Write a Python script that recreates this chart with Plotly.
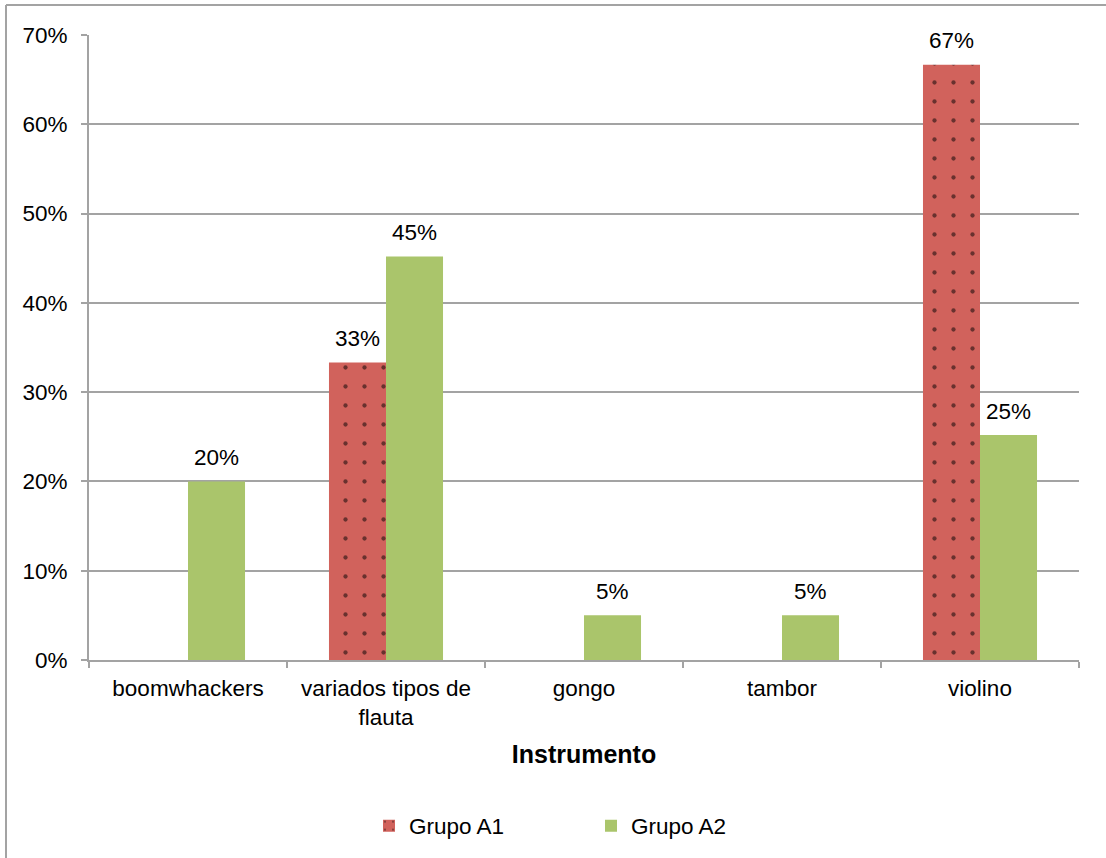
import plotly.graph_objects as go

categories = ["boomwhackers", "variados tipos de<br>flauta", "gongo", "tambor", "violino"]
grupo_a1 = [0.0, 0.3333, 0.0, 0.0, 0.6667]
grupo_a2 = [0.20, 0.452, 0.05, 0.05, 0.252]
series_names = ["Grupo A1", "Grupo A2"]
y_ticks = [0, 0.1, 0.2, 0.3, 0.4, 0.5, 0.6, 0.7]
y_tick_labels = ["0%", "10%", "20%", "30%", "40%", "50%", "60%", "70%"]

RED = "#D1625C"
GREEN = "#AAC56B"
GRID = "#A3A3A3"
FONT = "Arial, Liberation Sans, sans-serif"
FS = 22.5
BARGAP = 0.424

L, R, T, B = 89, 27, 35, 197
W, H = 1106, 858
pw, ph = W - L - R, H - T - B

fig = go.Figure()
fig.add_trace(go.Bar(
    x=categories, y=grupo_a1, name=series_names[0],
    marker=dict(color=RED, line=dict(width=0),
                pattern=dict(shape=".", fgcolor="black", bgcolor=RED, size=19, solidity=0.04)),
))
fig.add_trace(go.Bar(
    x=categories, y=grupo_a2, name=series_names[1],
    marker=dict(color=GREEN, line=dict(width=0)),
))

annotations = []
half = (1 - BARGAP) / 4
for si, vals in enumerate([grupo_a1, grupo_a2]):
    off = -half if si == 0 else half
    for i, v in enumerate(vals):
        if v > 0:
            annotations.append(dict(
                x=i + off, y=v, xref="x", yref="y", text=f"{round(v*100):.0f}%",
                showarrow=False, yanchor="middle", yshift=24,
                font=dict(family=FONT, size=FS, color="black"),
            ))

px = lambda x: (x - L) / pw
py = lambda y: (H - B - y) / ph
shapes = [
    dict(type="line", xref="paper", yref="paper", x0=px(6), x1=px(6), y0=py(5), y1=py(900),
         line=dict(color=GRID, width=2)),
    dict(type="line", xref="paper", yref="paper", x0=px(6), x1=px(1120), y0=py(5), y1=py(5),
         line=dict(color=GRID, width=2)),
]

fig.update_layout(
    width=W, height=H,
    margin=dict(l=L, r=R, t=T, b=B),
    paper_bgcolor="white", plot_bgcolor="white",
    barmode="group", bargap=BARGAP, bargroupgap=0,
    font=dict(family=FONT, size=FS, color="black"),
    annotations=annotations,
    shapes=shapes,
    showlegend=True,
    legend=dict(orientation="h", x=px(369), xanchor="left", y=py(826), yanchor="middle",
                font=dict(family=FONT, size=FS), entrywidth=177, entrywidthmode="pixels",
                bgcolor="rgba(0,0,0,0)"),
    xaxis=dict(
        type="category", showline=True, linecolor=GRID, linewidth=2,
        ticks="outside", tickson="boundaries", ticklen=6, tickcolor=GRID, tickwidth=2,
        showgrid=False, tickfont=dict(family=FONT, size=FS), ticklabelstandoff=7,
        title=dict(text="<b>Instrumento</b>", font=dict(family=FONT, size=25), standoff=16),
    ),
    yaxis=dict(
        range=[0, 0.7], tickvals=y_ticks, ticktext=y_tick_labels,
        showline=True, linecolor=GRID, linewidth=2,
        ticks="outside", ticklen=6, tickcolor=GRID, tickwidth=2,
        showgrid=True, gridcolor=GRID, gridwidth=1.5, zeroline=False,
        tickfont=dict(family=FONT, size=FS), ticklabelstandoff=9,
    ),
)

fig.write_html("out.html")
